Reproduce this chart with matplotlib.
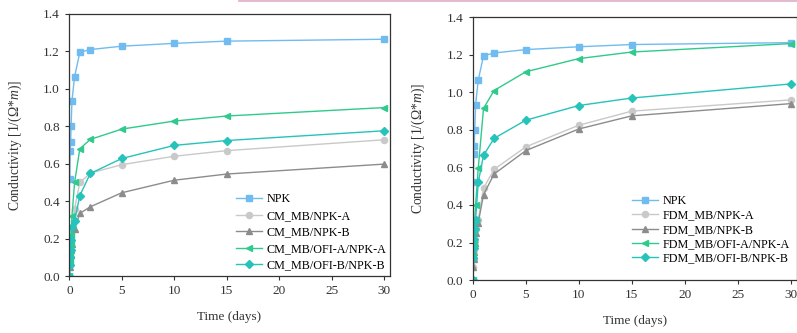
import numpy as np
import matplotlib.pyplot as plt
from matplotlib.lines import Line2D

plt.rcParams['font.family'] = ['Liberation Serif', 'DejaVu Serif']
plt.rcParams['mathtext.fontset'] = 'custom'
plt.rcParams['mathtext.rm'] = 'Liberation Serif'
plt.rcParams['mathtext.it'] = 'Liberation Serif:italic'

# sampling times (days)
t = [0, 0.042, 0.083, 0.125, 0.167, 0.25, 0.5, 1, 2, 5, 10, 15, 30]
t_npk = t[1:]

npk = [0.52, 0.67, 0.715, 0.80, 0.935, 1.065, 1.195, 1.21, 1.228, 1.243, 1.255, 1.265]

# left panel: CM
cm_a = [0.0, 0.06, 0.10, 0.14, 0.19, 0.25, 0.36, 0.50, 0.55, 0.595, 0.64, 0.67, 0.728]
cm_b = [0.0, 0.05, 0.08, 0.11, 0.14, 0.17, 0.25, 0.335, 0.37, 0.445, 0.512, 0.545, 0.598]
cm_ofi_a = [0.0, 0.08, 0.12, 0.17, 0.22, 0.32, 0.50, 0.68, 0.73, 0.785, 0.828, 0.855, 0.90]
cm_ofi_b = [0.0, 0.06, 0.10, 0.14, 0.19, 0.26, 0.295, 0.43, 0.548, 0.628, 0.698, 0.724, 0.776]

# right panel: FDM
fdm_a = [0.0, 0.07, 0.11, 0.16, 0.21, 0.27, 0.32, 0.49, 0.59, 0.71, 0.825, 0.90, 0.96]
fdm_b = [0.0, 0.07, 0.11, 0.15, 0.20, 0.25, 0.305, 0.455, 0.565, 0.69, 0.805, 0.875, 0.94]
fdm_ofi_a = [0.0, 0.13, 0.19, 0.26, 0.32, 0.40, 0.595, 0.915, 1.01, 1.11, 1.18, 1.215, 1.26]
fdm_ofi_b = [0.0, 0.12, 0.17, 0.22, 0.27, 0.32, 0.52, 0.665, 0.755, 0.852, 0.93, 0.97, 1.045]

c_npk = '#70bcf0'
c_a = '#c9c9c9'
c_b = '#8c8c8c'
c_ofa = '#2fca8c'
c_ofb = '#26c3bb'

fig = plt.figure(figsize=(7.97, 3.33), dpi=100)
ax1 = fig.add_axes([0.0866, 0.171, 0.4028, 0.787])
ax2 = fig.add_axes([0.593, 0.159, 0.4065, 0.789])

def panel(ax, pre, a, b, oa, ob, leg_pos, leg_sp):
    ms = 4.4
    ax.plot(t_npk, npk, '-s', color=c_npk, ms=ms, lw=1, label='NPK')
    ax.plot(t, a, '-o', color=c_a, ms=ms, lw=1, label=pre + '_MB/NPK-A')
    ax.plot(t, b, '-^', color=c_b, ms=ms, lw=1, label=pre + '_MB/NPK-B')
    ax.plot(t, oa, '-<', color=c_ofa, ms=ms, lw=1, label=pre + '_MB/OFI-A/NPK-A')
    ax.plot(t, ob, '-D', color=c_ofb, ms=ms - 0.6, lw=1, label=pre + '_MB/OFI-B/NPK-B')
    ax.set_xlim(-0.03, 30.57)
    ax.set_ylim(0, 1.4)
    ax.set_xticks([0, 5, 10, 15, 20, 25, 30])
    ax.set_yticks(np.arange(0, 1.41, 0.2))
    ax.yaxis.set_major_formatter(plt.FormatStrFormatter('%.1f'))
    ax.tick_params(labelsize=9.5, length=3, width=0.8, direction='out', colors='#333333')
    for s in ax.spines.values():
        s.set_color('#333333')
        s.set_linewidth(0.9)
    ax.set_xlabel('Time (days)', fontsize=9.5, labelpad=10, color='#333333')
    ax.set_ylabel('Conductivity [1/(Ω*$\\mathit{m}$)]', fontsize=9.8, labelpad=14, color='#333333')
    ax.legend(loc='lower left', bbox_to_anchor=leg_pos, frameon=False, fontsize=8.7,
              handlelength=2.15, handletextpad=0.4, labelspacing=leg_sp, borderaxespad=0)

panel(ax1, 'CM', cm_a, cm_b, cm_ofi_a, cm_ofi_b, (0.505, 0.0), 0.37)
panel(ax2, 'FDM', fdm_a, fdm_b, fdm_ofi_a, fdm_ofi_b, (0.477, 0.042), 0.18)

# pink strip along the top edge of the screenshot
fig.add_artist(Line2D([0.3, 1.0], [0.998, 0.998], transform=fig.transFigure,
                      color='#d49ab6', lw=1.2, alpha=0.8))

fig.savefig('out.png', dpi=100)
